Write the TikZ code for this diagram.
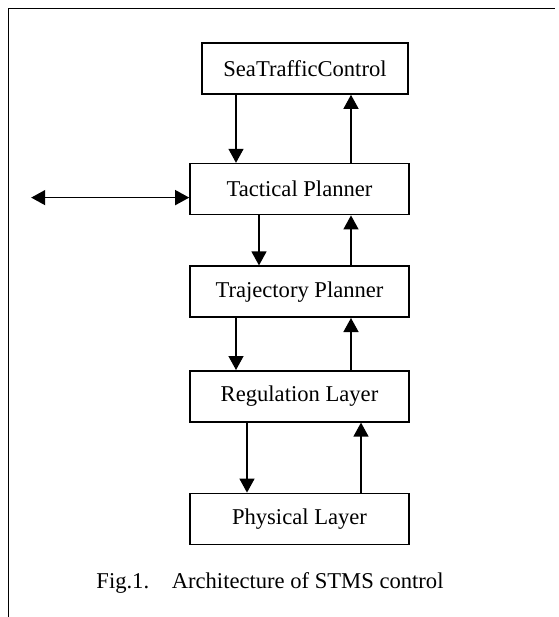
\documentclass[tikz,border=0pt]{standalone}
\usepackage{fontspec}
\setmainfont{Liberation Serif}
\usepackage{tikz}
\usetikzlibrary{positioning,arrows.meta}

\tikzset{
  >={Triangle[length=7pt,width=7.5pt]},
  layer/.style = {draw, line width=0.8pt, minimum width=109.5pt, minimum height=25.5pt,
                  inner sep=0pt, font=\fontsize{11.3pt}{13pt}\selectfont},
  flow/.style = {->, line width=0.7pt},
}

\begin{document}
\begin{tikzpicture}
    \useasboundingbox (0,0) rectangle (279pt,-308.5pt);
    \draw[line width=0.8pt] (4.25pt,-308.5pt) -- (4.25pt,-4.25pt) -- (277.5pt,-4.25pt);

    \node[layer, minimum width=103pt] (sea) at (152.5pt,-34.25pt) {SeaTrafficControl};
    \node[layer, below=34pt of sea, xshift=-2.75pt] (tactical) {Tactical Planner};
    \node[layer, below=25pt of tactical] (trajectory) {Trajectory Planner};
    \node[layer, below=26pt of trajectory] (regulation) {Regulation Layer};
    \node[layer, below=35pt of regulation] (physical) {Physical Layer};

    \node[font=\fontsize{11.3pt}{13pt}\selectfont] (caption) at (135pt,-291.5pt)
      {Fig.1.\hspace{1em}Architecture of STMS control};

    \coordinate (outside) at ([xshift=-79pt,yshift=-4.25pt]tactical.west);
    \draw[flow, <->] (outside) -- ([yshift=-4.25pt]tactical.west);

    \draw[flow] ([xshift=-34.5pt]sea.south) -- ([xshift=-34.5pt]sea.south |- tactical.north);
    \draw[flow] ([xshift=25.75pt]tactical.north) -- ([xshift=25.75pt]tactical.north |- sea.south);

    \draw[flow] ([xshift=-20.25pt]tactical.south) -- ([xshift=-20.25pt]tactical.south |- trajectory.north);
    \draw[flow] ([xshift=25.75pt]trajectory.north) -- ([xshift=25.75pt]trajectory.north |- tactical.south);

    \draw[flow] ([xshift=-31.75pt]trajectory.south) -- ([xshift=-31.75pt]trajectory.south |- regulation.north);
    \draw[flow] ([xshift=25.75pt]regulation.north) -- ([xshift=25.75pt]regulation.north |- trajectory.south);

    \draw[flow] ([xshift=-26.25pt]regulation.south) -- ([xshift=-26.25pt]regulation.south |- physical.north);
    \draw[flow] ([xshift=30.75pt]physical.north) -- ([xshift=30.75pt]physical.north |- regulation.south);
\end{tikzpicture}
\end{document}
